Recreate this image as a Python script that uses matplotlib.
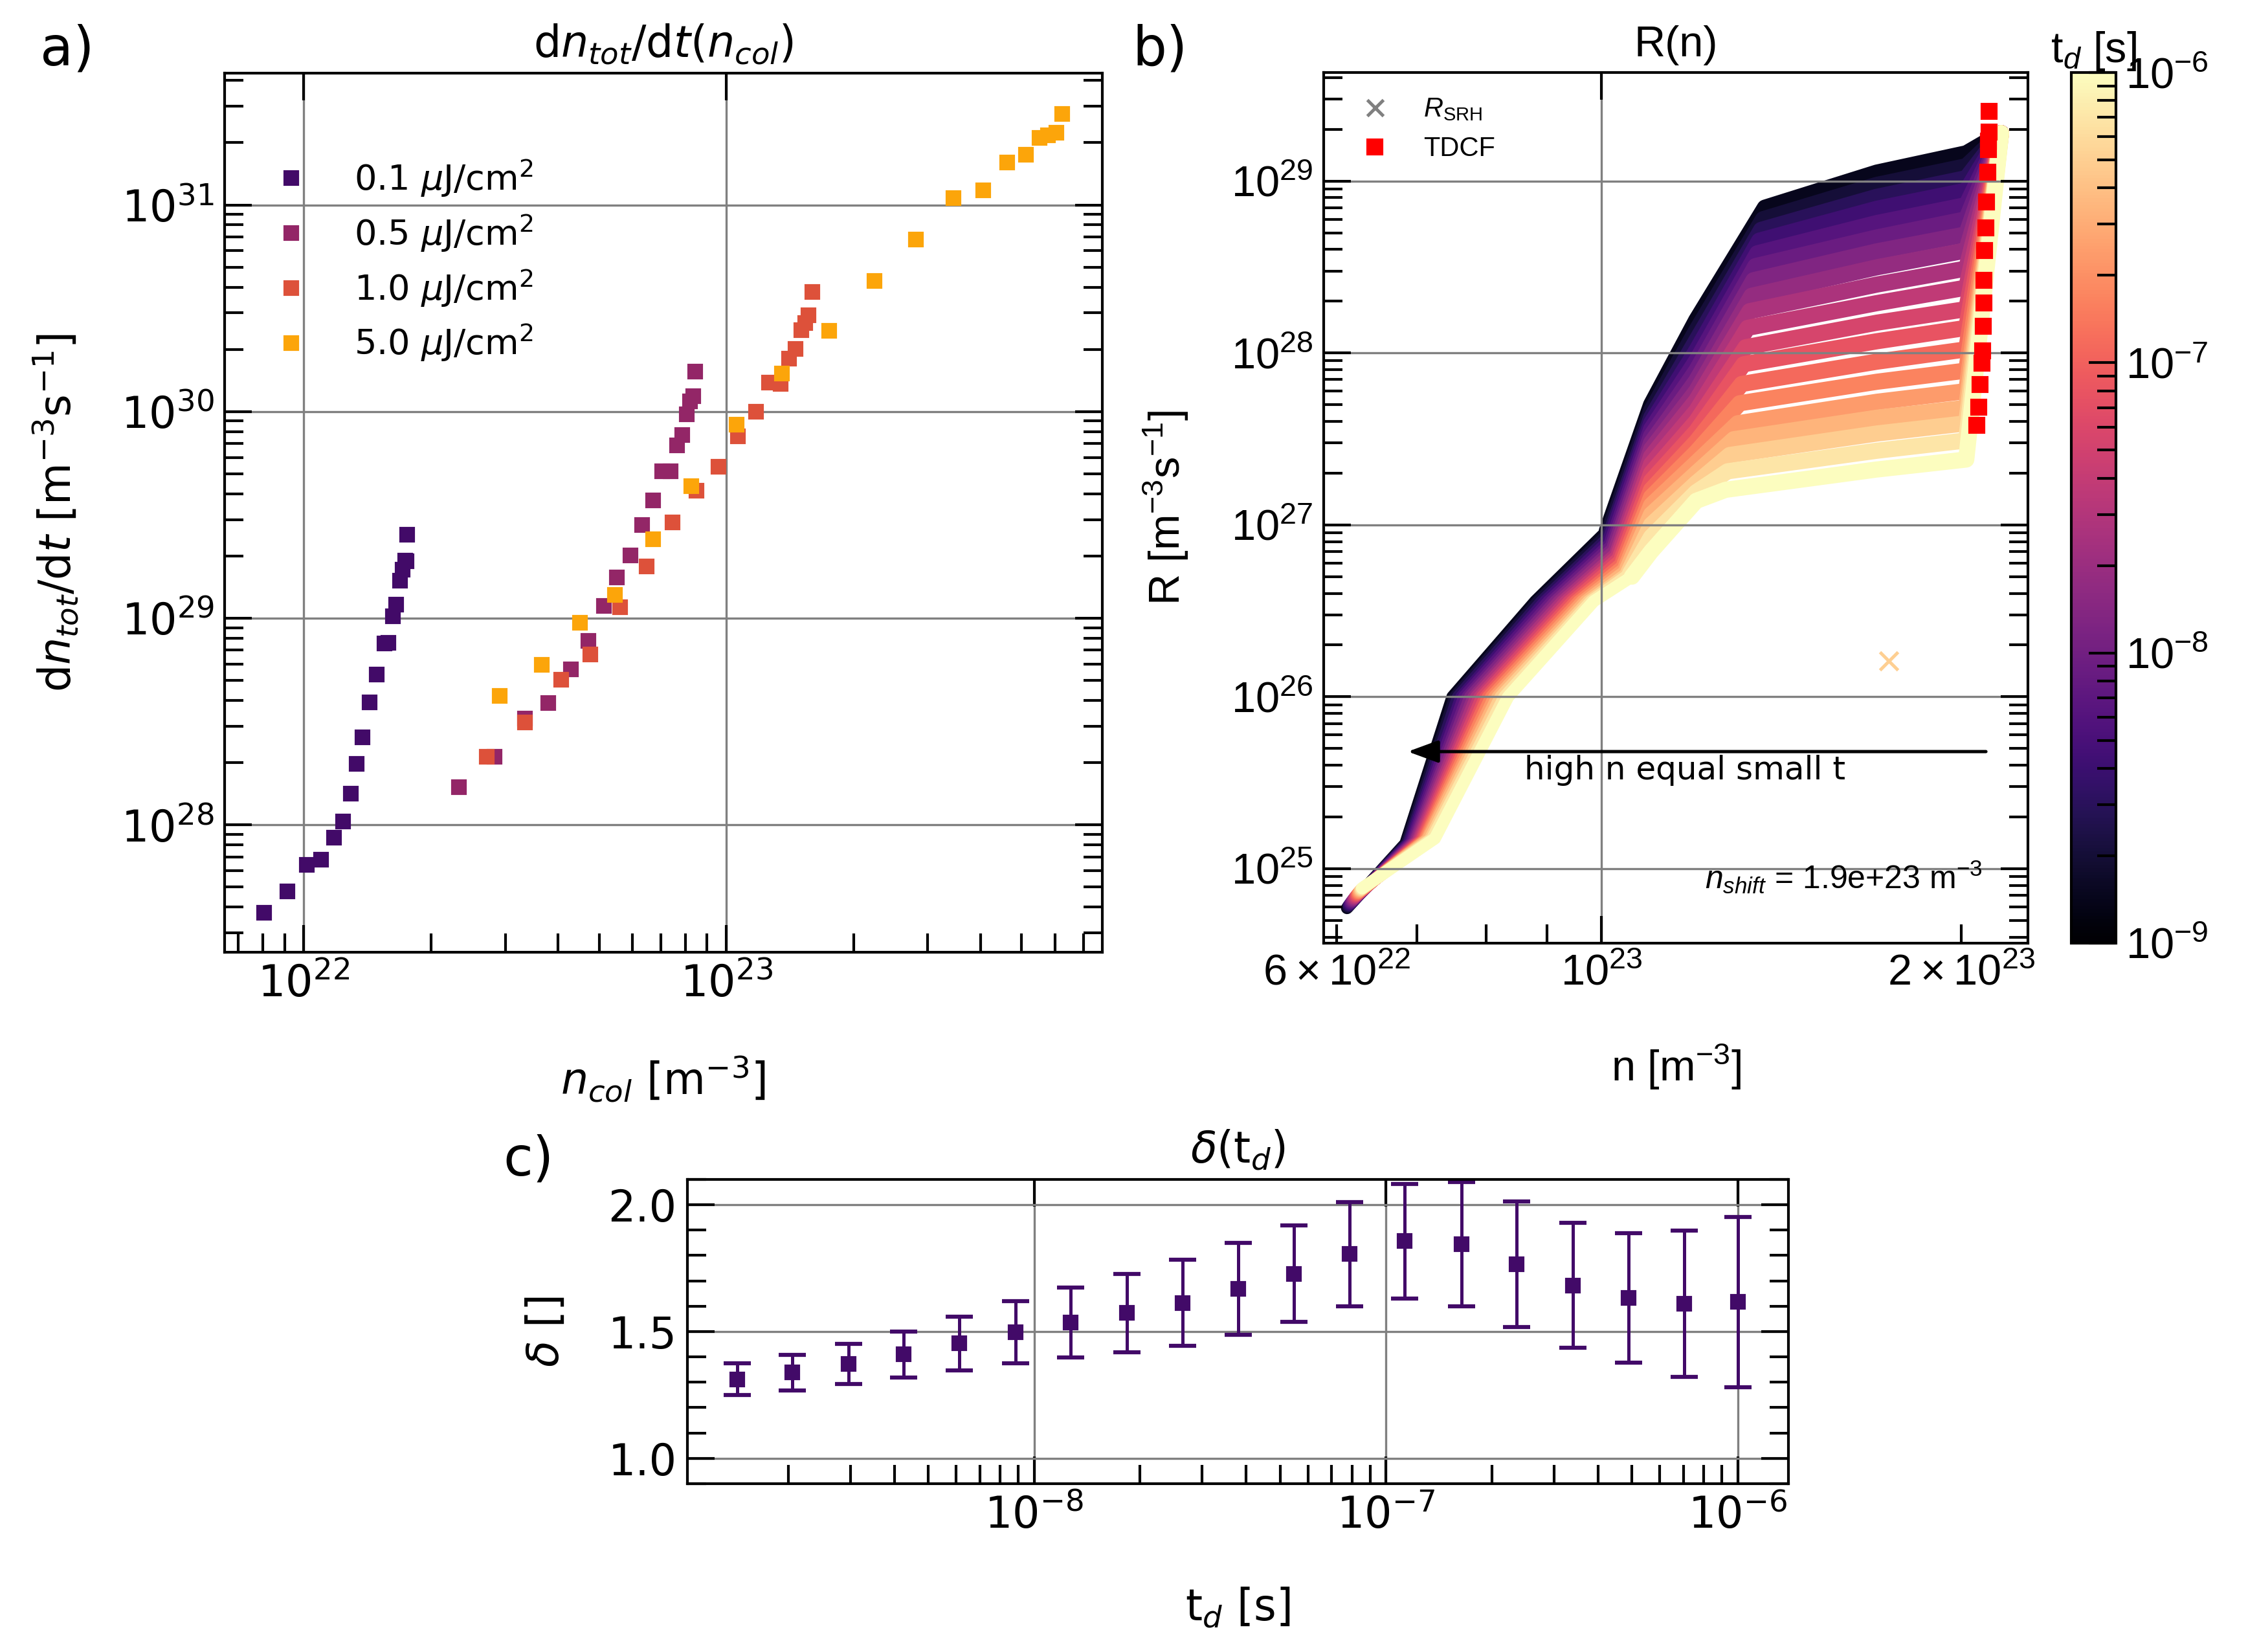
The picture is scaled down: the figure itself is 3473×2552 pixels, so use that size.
import numpy as np
import matplotlib
matplotlib.use('Agg')
import matplotlib.pyplot as plt
from matplotlib.colors import LogNorm
from matplotlib.cm import ScalarMappable
from matplotlib.ticker import MultipleLocator

ARIAL = 'Liberation Sans'
plt.rcParams['mathtext.rm'] = ARIAL
plt.rcParams['mathtext.it'] = ARIAL + ':italic'
plt.rcParams['mathtext.bf'] = ARIAL + ':bold'
plt.rcParams['mathtext.sf'] = ARIAL

# ---------------- panel a: dn_tot/dt vs n_col, four fluences
fluence_labels = [r'0.1 $\mu$J/cm$^2$', r'0.5 $\mu$J/cm$^2$',
                  r'1.0 $\mu$J/cm$^2$', r'5.0 $\mu$J/cm$^2$']
n_col_01 = [8.05e21, 9.13e21, 1.016e22, 1.099e22, 1.18e22, 1.237e22, 1.292e22,
            1.334e22, 1.376e22, 1.432e22, 1.489e22, 1.549e22, 1.586e22, 1.624e22,
            1.656e22, 1.69e22, 1.71e22, 1.738e22, 1.75e22, 1.758e22]
rate_01 = [3.77e27, 4.76e27, 6.41e27, 6.77e27, 8.68e27, 1.04e28, 1.42e28,
           1.97e28, 2.65e28, 3.91e28, 5.34e28, 7.53e28, 7.59e28, 1.02e29,
           1.16e29, 1.52e29, 1.72e29, 1.9e29, 1.89e29, 2.53e29]
n_col_05 = [2.325e22, 2.83e22, 3.34e22, 3.79e22, 4.28e22, 4.71e22, 5.14e22,
            5.51e22, 5.92e22, 6.33e22, 6.71e22, 7.04e22, 7.38e22, 7.65e22,
            7.87e22, 8.05e22, 8.21e22, 8.34e22, 8.44e22]
rate_05 = [1.52e28, 2.14e28, 3.27e28, 3.88e28, 5.64e28, 7.77e28, 1.15e29,
           1.57e29, 2.01e29, 2.83e29, 3.72e29, 5.13e29, 5.13e29, 6.84e29,
           7.69e29, 9.71e29, 1.12e30, 1.19e30, 1.56e30]
n_col_10 = [2.71e22, 3.34e22, 4.06e22, 4.77e22, 5.6e22, 6.48e22, 7.47e22,
            8.5e22, 9.58e22, 1.065e23, 1.175e23, 1.262e23, 1.343e23, 1.409e23,
            1.459e23, 1.506e23, 1.537e23, 1.567e23, 1.6e23]
rate_10 = [2.14e28, 3.14e28, 5.05e28, 6.69e28, 1.13e29, 1.78e29, 2.9e29,
           4.15e29, 5.41e29, 7.57e29, 9.95e29, 1.38e30, 1.36e30, 1.8e30,
           2.01e30, 2.48e30, 2.68e30, 2.92e30, 3.8e30]
n_col_50 = [2.91e22, 3.66e22, 4.51e22, 5.45e22, 6.71e22, 8.27e22, 1.057e23,
            1.355e23, 1.75e23, 2.24e23, 2.81e23, 3.45e23, 4.06e23, 4.62e23,
            5.12e23, 5.51e23, 5.78e23, 6.04e23, 6.25e23]
rate_50 = [4.2e28, 5.96e28, 9.51e28, 1.3e29, 2.41e29, 4.35e29, 8.65e29,
           1.53e30, 2.46e30, 4.28e30, 6.78e30, 1.08e31, 1.18e31, 1.6e31,
           1.75e31, 2.11e31, 2.18e31, 2.24e31, 2.75e31]

# ---------------- panel b: R(n) curves, one per delay time (dark -> light)
td_curves = [1.43e-9, 2.05e-9, 2.96e-9, 4.26e-9, 6.13e-9, 8.83e-9, 1.27e-8,
             1.83e-8, 2.64e-8, 3.80e-8, 5.47e-8, 7.88e-8, 1.13e-7, 1.64e-7,
             2.35e-7, 3.39e-7, 4.88e-7, 7.03e-7, 1.00e-6]
n_tip = [6.12e22, 6.13e22, 6.14e22, 6.15e22, 6.16e22, 6.17e22, 6.18e22, 6.19e22,
         6.20e22, 6.21e22, 6.22e22, 6.23e22, 6.24e22, 6.25e22, 6.26e22, 6.27e22,
         6.28e22, 6.29e22, 6.30e22]
R_tip = [5.9e24, 6.0e24, 6.1e24, 6.2e24, 6.3e24, 6.4e24, 6.5e24, 6.6e24, 6.7e24,
         6.8e24, 6.9e24, 7.0e24, 7.1e24, 7.2e24, 7.3e24, 7.4e24, 7.5e24, 7.6e24,
         7.7e24]
n_shoulder = [6.85e22, 6.87e22, 6.89e22, 6.91e22, 6.93e22, 6.95e22, 6.97e22,
              6.99e22, 7.01e22, 7.03e22, 7.05e22, 7.07e22, 7.09e22, 7.11e22,
              7.13e22, 7.15e22, 7.18e22, 7.21e22, 7.25e22]
R_shoulder = [1.40e25, 1.41e25, 1.41e25, 1.42e25, 1.42e25, 1.43e25, 1.43e25,
              1.44e25, 1.44e25, 1.45e25, 1.45e25, 1.46e25, 1.46e25, 1.47e25,
              1.47e25, 1.48e25, 1.48e25, 1.49e25, 1.50e25]
R_low_levels = [1.0e26, 3.6e26]
n_at_R1 = [7.50e22, 7.54e22, 7.58e22, 7.63e22, 7.67e22, 7.72e22, 7.76e22, 7.81e22,
           7.85e22, 7.90e22, 7.94e22, 7.99e22, 8.03e22, 8.08e22, 8.13e22, 8.18e22,
           8.23e22, 8.29e22, 8.35e22]
n_at_R2 = [8.80e22, 8.85e22, 8.91e22, 8.97e22, 9.03e22, 9.09e22, 9.15e22, 9.21e22,
           9.27e22, 9.33e22, 9.39e22, 9.45e22, 9.51e22, 9.57e22, 9.63e22, 9.69e22,
           9.75e22, 9.80e22, 9.85e22]
n_steep = [1.010e23, 1.013e23, 1.016e23, 1.018e23, 1.021e23, 1.024e23, 1.026e23,
           1.029e23, 1.032e23, 1.034e23, 1.037e23, 1.040e23, 1.042e23, 1.045e23,
           1.048e23, 1.050e23, 1.053e23, 1.056e23, 1.060e23]
R_steep = [9.2e26, 8.9e26, 8.6e26, 8.3e26, 8.0e26, 7.8e26, 7.5e26, 7.3e26, 7.0e26,
           6.8e26, 6.6e26, 6.4e26, 6.1e26, 5.9e26, 5.7e26, 5.5e26, 5.3e26, 5.2e26,
           5.0e26]
n_high_levels = [1.10e23, 1.20e23]
R_at_n1 = [5.0e27, 4.6e27, 4.2e27, 3.9e27, 3.6e27, 3.3e27, 3.0e27, 2.75e27, 2.5e27,
           2.25e27, 2.0e27, 1.8e27, 1.6e27, 1.45e27, 1.3e27, 1.15e27, 1.0e27,
           8.5e26, 7.0e26]
R_at_n2 = [1.55e28, 1.35e28, 1.18e28, 1.03e28, 9.0e27, 7.9e27, 6.9e27, 6.0e27,
           5.3e27, 4.6e27, 4.0e27, 3.5e27, 3.05e27, 2.65e27, 2.3e27, 2.0e27,
           1.75e27, 1.55e27, 1.38e27]
n_knee = [1.370e23, 1.365e23, 1.360e23, 1.355e23, 1.350e23, 1.345e23, 1.340e23,
          1.335e23, 1.330e23, 1.325e23, 1.320e23, 1.315e23, 1.310e23, 1.305e23,
          1.300e23, 1.290e23, 1.280e23, 1.275e23, 1.270e23]
R_knee = [7.0e28, 6.0e28, 5.2e28, 4.5e28, 3.8e28, 3.2e28, 2.65e28, 2.15e28, 1.75e28,
          1.4e28, 1.08e28, 8.6e27, 6.6e27, 5.1e27, 3.9e27, 3.15e27, 2.55e27,
          2.05e27, 1.6e27]
n_plateau = [1.70e23, 2.02e23]
R_plat_mid = [1.12e29, 9.5e28, 8.1e28, 6.9e28, 5.7e28, 4.7e28, 3.9e28, 3.15e28,
              2.5e28, 1.95e28, 1.5e28, 1.17e28, 8.9e27, 6.8e27, 5.2e27, 4.2e27,
              3.4e27, 2.7e27, 2.1e27]
R_plat_end = [1.45e29, 1.22e29, 1.04e29, 8.8e28, 7.25e28, 6.0e28, 4.9e28, 3.95e28,
              3.1e28, 2.4e28, 1.8e28, 1.4e28, 1.05e28, 7.9e27, 6.0e27, 4.8e27,
              3.9e27, 3.1e27, 2.4e27]
n_top, R_top = 2.16e23, 1.9e29
n_stray, R_stray, td_stray = 1.74e23, 1.62e26, 5.0e-7

n_tdcf = [2.112e23, 2.11e23, 2.109e23, 2.108e23, 2.106e23, 2.101e23, 2.097e23,
          2.093e23, 2.091e23, 2.089e23, 2.087e23, 2.084e23, 2.081e23, 2.074e23,
          2.068e23, 2.062e23]
R_tdcf = [2.54e29, 1.93e29, 1.71e29, 1.53e29, 1.13e29, 7.57e28, 5.35e28, 3.94e28,
          2.65e28, 1.95e28, 1.43e28, 1.03e28, 8.75e27, 6.53e27, 4.82e27, 3.8e27]

# ---------------- panel c: delta(t_d)
td = [1.43e-9, 2.05e-9, 2.96e-9, 4.26e-9, 6.13e-9, 8.83e-9, 1.27e-8, 1.83e-8,
      2.64e-8, 3.80e-8, 5.47e-8, 7.88e-8, 1.13e-7, 1.64e-7, 2.35e-7, 3.39e-7,
      4.88e-7, 7.03e-7, 1.00e-6]
delta = [1.312, 1.338, 1.371, 1.41, 1.453, 1.497, 1.535, 1.573, 1.613, 1.668,
         1.728, 1.805, 1.856, 1.845, 1.766, 1.682, 1.632, 1.61, 1.616]
delta_err = [0.062, 0.07, 0.079, 0.091, 0.106, 0.122, 0.138, 0.155, 0.17, 0.182,
             0.191, 0.205, 0.225, 0.245, 0.248, 0.246, 0.256, 0.288, 0.335]


def style_axes(ax, top_minor=False):
    ax.tick_params(which='both', direction='in', top=True, right=True, width=1,
                   labelsize=16, pad=4)
    ax.tick_params(which='major', length=10)
    ax.tick_params(which='minor', length=7, top=top_minor)
    for sp in ax.spines.values():
        sp.set_linewidth(1)


fig = plt.figure(figsize=(3473 / 300, 2552 / 300), dpi=300)

# ---- a)
ax1 = fig.add_axes([0.0999, 0.4236, 0.3904, 0.5321])
cols = [plt.cm.inferno(v) for v in (0.2, 0.4, 0.6, 0.8)]
for x, y, c, lab in zip([n_col_01, n_col_05, n_col_10, n_col_50],
                        [rate_01, rate_05, rate_10, rate_50], cols, fluence_labels):
    ax1.plot(x, y, 's', ms=5, color=c, label=lab)
ax1.set_xscale('log')
ax1.set_yscale('log')
ax1.set_xlim(6.49e21, 7.76e23)
ax1.set_ylim(2.42e27, 4.34e31)
ax1.grid(True, which='major', color='gray', lw=0.8)
style_axes(ax1)
ax1.set_title(r'd$n_{tot}$/d$t$($n_{col}$)', fontsize=16)
ax1.set_xlabel(r'$n_{col}$ [m$^{-3}$]', fontsize=16, labelpad=18)
ax1.set_ylabel(r'd$n_{tot}$/d$t$ [m$^{-3}$s$^{-1}$]', fontsize=16, labelpad=15)
ax1.legend(loc='upper left', bbox_to_anchor=(0, 0.94), frameon=False, fontsize=13,
           labelspacing=0.4)
fig.text(0.03, 0.97, 'a)', fontsize=20, va='center', ha='center')

# ---- b)
ax2 = fig.add_axes([0.5888, 0.4291, 0.3133, 0.5270])
cmap = plt.cm.magma
norm = LogNorm(1e-9, 1e-6)
for k in range(len(td_curves)):
    c = cmap(norm(td_curves[k]))
    # lower (low density) part
    n_lo = [n_tip[k], n_shoulder[k], n_at_R1[k], n_at_R2[k], n_steep[k]]
    R_lo = [R_tip[k], R_shoulder[k], R_low_levels[0], R_low_levels[1], R_steep[k]]
    ax2.plot(n_lo, R_lo, '-', color=c, lw=4.5, zorder=2,
             solid_joinstyle='round', solid_capstyle='round')
    # upper part: steep rise, plateau, final climb
    n_hi = [n_steep[k], n_high_levels[0], n_high_levels[1], n_knee[k],
            n_plateau[0], n_plateau[1], n_top]
    R_hi = [R_steep[k], R_at_n1[k], R_at_n2[k], R_knee[k], R_plat_mid[k],
            R_plat_end[k], R_top]
    ax2.plot(n_hi, R_hi, '-', color=c, lw=6, zorder=2,
             solid_joinstyle='round', solid_capstyle='round')
ax2.plot([n_stray], [R_stray], 'x', color=cmap(norm(td_stray)), ms=6.5, mew=1.2)
ax2.plot(n_tdcf, R_tdcf, 's', color='red', ms=5.5, zorder=4)
ax2.plot([], [], 'x', color='gray', ms=6, mew=1.2, label=r'$R_{\rm SRH}$')
ax2.plot([], [], 's', color='red', ms=5.5, label='TDCF')
ax2.set_xscale('log')
ax2.set_yscale('log')
ax2.set_xlim(5.85e22, 2.275e23)
ax2.set_ylim(3.69e24, 4.28e29)
ax2.grid(True, which='major', color='gray', lw=0.8, zorder=3)
ax2.set_axisbelow(False)
style_axes(ax2)
ax2.tick_params(which='both', labelfontfamily=ARIAL)
ax2.set_title('R(n)', fontsize=16, fontfamily=ARIAL)
ax2.set_xlabel(r'n [m$^{-3}$]', fontsize=16, labelpad=18, fontfamily=ARIAL,
               math_fontfamily='custom')
ax2.set_ylabel(r'R [m$^{-3}$s$^{-1}$]', fontsize=16, labelpad=15, fontfamily=ARIAL,
               math_fontfamily='custom')
leg = ax2.legend(loc='upper left', frameon=False, prop={'family': ARIAL, 'size': 10})
for t in leg.get_texts():
    t.set_math_fontfamily('custom')
ax2.annotate('', xy=(6.81e22, 4.8e25), xytext=(2.12e23, 4.8e25),
             arrowprops=dict(arrowstyle='-|>,head_length=0.6,head_width=0.22',
                             color='k', lw=1.2, mutation_scale=16))
ax2.text(8.61e22, 3.73e25, 'high n equal small t', fontsize=12, ha='left',
         va='center')
ax2.text(2.085e23, 8.94e24, r'$n_{shift}$ = 1.9e+23 m$^{-3}$', fontsize=12,
         ha='right', va='center', fontfamily=ARIAL, math_fontfamily='custom')
fig.text(0.516, 0.97, 'b)', fontsize=20, va='center', ha='center')

cax = fig.add_axes([0.9214, 0.4291, 0.01987, 0.5270])
cb = fig.colorbar(ScalarMappable(norm=norm, cmap=cmap), cax=cax)
cax.tick_params(which='both', direction='in', width=1, labelfontfamily=ARIAL,
                labelsize=16)
cax.tick_params(which='major', length=10)
cax.tick_params(which='minor', length=7)
cb.outline.set_linewidth(1)
cax.set_title(r't$_d$ [s]', fontsize=16, fontfamily=ARIAL, math_fontfamily='custom',
              pad=3)

# ---- c)
ax3 = fig.add_axes([0.3058, 0.1019, 0.4898, 0.1842])
ax3.errorbar(td, delta, yerr=delta_err, fmt='s', ms=5, color=plt.cm.inferno(0.2),
             ecolor=plt.cm.inferno(0.2), elinewidth=1.2, capsize=5, capthick=1.5)
ax3.set_xscale('log')
ax3.set_xlim(1.033e-9, 1.393e-6)
ax3.set_ylim(0.9, 2.1)
ax3.yaxis.set_major_locator(MultipleLocator(0.5))
ax3.yaxis.set_minor_locator(MultipleLocator(0.1))
ax3.grid(True, which='major', color='gray', lw=0.8)
style_axes(ax3)
ax3.set_title(r'$\delta$(t$_d$)', fontsize=16)
ax3.set_xlabel(r't$_d$ [s]', fontsize=16, labelpad=18)
ax3.set_ylabel(r'$\delta$ []', fontsize=16, labelpad=15)
fig.text(0.235, 0.298, 'c)', fontsize=20, va='center', ha='center')

fig.savefig('out.png', dpi=300)
